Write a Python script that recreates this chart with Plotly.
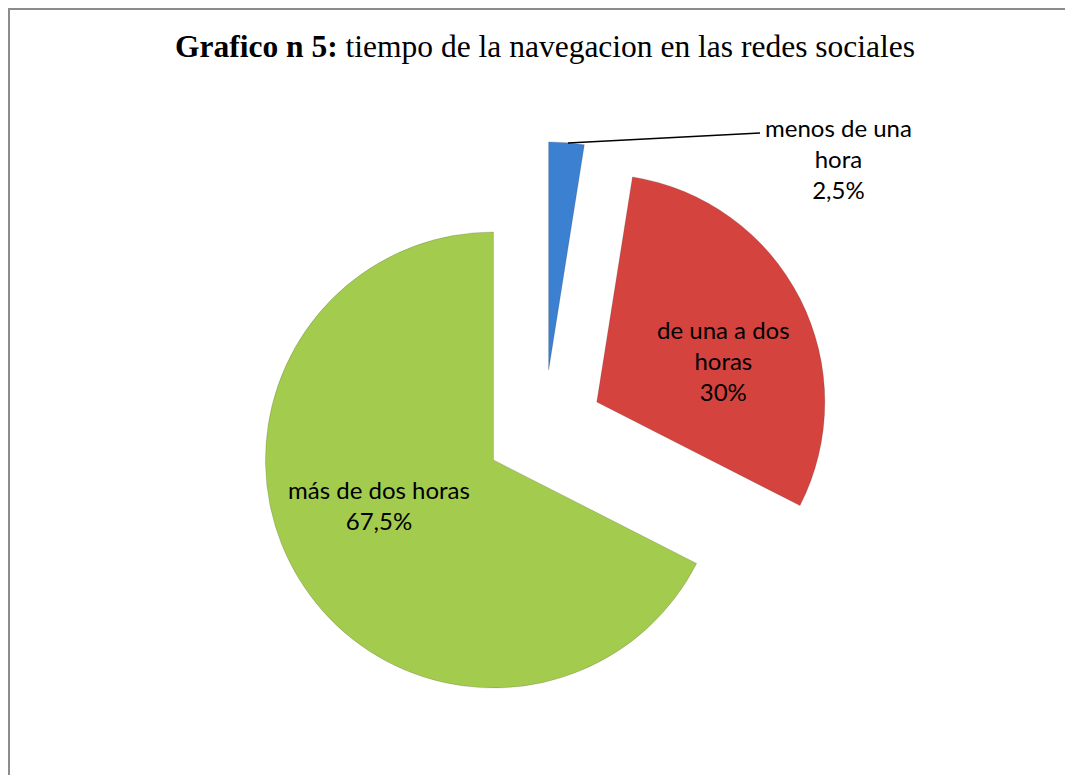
import plotly.graph_objects as go

# ---- data ----
categories = ["menos de una hora", "de una a dos horas", "más de dos horas"]
values = [2.5, 30.0, 67.5]
value_labels = ["2,5%", "30%", "67,5%"]
label_lines = [["menos de una", "hora"], ["de una a dos", "horas"], ["más de dos horas"]]
colors = ["#3B80D1", "#D5433F", "#A3CC4F"]

OFF = 8  # page body margin
W, H = 1073 - 2 * OFF, 783 - 2 * OFF


def px(x):
    return (x - OFF) / W


def py(y):
    return 1 - (y - OFF) / H


# pie geometry in pixels
cx, cy = 544, 429
radius = 228
pull = 0.26
half = radius * (1 + pull)

fig = go.Figure(
    go.Pie(
        labels=categories,
        values=values,
        sort=False,
        direction="clockwise",
        rotation=0,
        pull=[pull] * len(values),
        marker=dict(colors=colors, line=dict(color="rgba(0,0,0,0.15)", width=1)),
        textinfo="none",
        hoverinfo="label+percent",
        showlegend=False,
        domain=dict(x=[px(cx - half), px(cx + half)], y=[py(cy + half), py(cy - half)]),
    )
)

label_font = dict(family="Lato", size=24, color="black")
annotations = []

# title
annotations.append(dict(
    x=px(545), y=py(47), xref="paper", yref="paper", xanchor="center", yanchor="middle",
    showarrow=False,
    text="<b>Grafico n 5:</b> tiempo de la navegacion en las redes sociales",
    font=dict(family="Liberation Serif", size=31.5, color="black"),
))

# labels
label_pos = [(838, 159), (723, 360), (379, 505)]
for (lx, ly), lines, vl in zip(label_pos, label_lines, value_labels):
    annotations.append(dict(
        x=px(lx), y=py(ly), xref="paper", yref="paper", xanchor="center", yanchor="middle",
        align="center", showarrow=False, text="<br>".join(lines + [vl]), font=label_font,
    ))

shapes = [
    # chart-area border (top and left visible)
    dict(type="rect", xref="paper", yref="paper", x0=px(9), y0=-0.05, x1=1.05, y1=py(9),
         line=dict(color="#8C8C8C", width=2), fillcolor="rgba(0,0,0,0)", layer="below"),
    # leader line for small slice
    dict(type="line", xref="paper", yref="paper", x0=px(568), y0=py(143), x1=px(760), y1=py(133),
         line=dict(color="black", width=1.5)),
]

fig.update_layout(
    width=W, height=H,
    margin=dict(l=0, r=0, t=0, b=0),
    paper_bgcolor="white", plot_bgcolor="white",
    annotations=annotations, shapes=shapes,
)

fig.write_html("out.html")
